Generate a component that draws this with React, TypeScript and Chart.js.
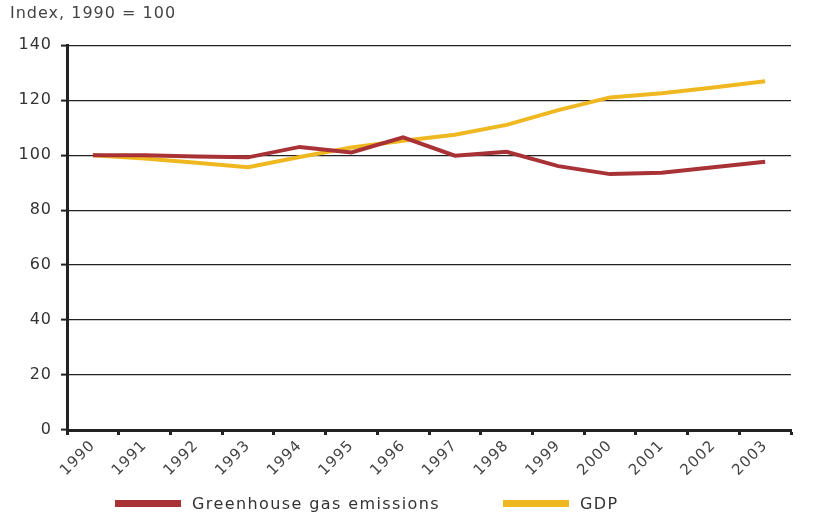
import React, { useEffect, useRef } from "react";
import { Chart, registerables } from "chart.js";

Chart.register(...registerables);

const years = ["1990","1991","1992","1993","1994","1995","1996","1997","1998","1999","2000","2001","2002","2003"];
const emissions = [100, 100, 99.5, 99.2, 103, 101, 106.5, 99.8, 101.2, 96, 93.1, 93.6, 95.6, 97.6];
const gdp = [100, 98.8, 97.2, 95.6, 99.3, 102.8, 105.2, 107.4, 111, 116.4, 121, 122.5, 124.6, 126.9];
const yTicks = [0, 20, 40, 60, 80, 100, 120, 140];
const titleText = "Index, 1990 = 100";
const seriesNames = ["Greenhouse gas emissions", "GDP"];
const seriesColors = ["#a83236", "#efb821"];

const FONT = "'DejaVu Sans', 'Liberation Sans', Arial, sans-serif";

const spacingPlugin = {
  id: "spacing",
  beforeLayout(chart: any) { chart.ctx.letterSpacing = "1px"; },
  beforeDraw(chart: any) { chart.ctx.letterSpacing = "1px"; },
};

export default function App() {
  const ref = useRef<HTMLCanvasElement>(null);
  useEffect(() => {
    document.body.style.margin = "0";
    const ctx = ref.current!;
    const chart = new Chart(ctx, {
      type: "line",
      data: {
        labels: years,
        datasets: [
          { label: seriesNames[0], data: emissions, borderColor: seriesColors[0], backgroundColor: seriesColors[0], borderWidth: 4, pointRadius: 0, tension: 0 },
          { label: seriesNames[1], data: gdp, borderColor: seriesColors[1], backgroundColor: seriesColors[1], borderWidth: 4, pointRadius: 0, tension: 0 },
        ],
      },
      plugins: [spacingPlugin],
      options: {
        responsive: false,
        animation: false,
        layout: { padding: { left: 10, right: 41, top: 0, bottom: 0 } },
        plugins: {
          legend: { display: false },
          tooltip: { enabled: false },
          title: {
            display: true,
            text: titleText,
            align: "start",
            color: "#444",
            font: { family: FONT, size: 16, weight: "normal" },
            padding: { top: 4, bottom: 22 },
          },
        },
        scales: {
          x: {
            offset: true,
            grid: { display: true, offset: true, drawOnChartArea: false, drawTicks: true, tickLength: 5, tickWidth: 3, tickColor: "#222" },
            border: { display: true, color: "#222", width: 3 },
            ticks: {
              color: "#444",
              maxRotation: 45,
              minRotation: 45,
              padding: 2,
              font: { family: FONT, size: 15 },
            },
            afterFit: (s: any) => { s.height = 101; },
          },
          y: {
            min: 0,
            max: 140,
            afterBuildTicks: (s: any) => { s.ticks = yTicks.map((v) => ({ value: v })); },
            grid: { color: "#222", lineWidth: 1.2, drawTicks: true, tickLength: 6, tickWidth: 2, tickColor: "#222" },
            border: { display: true, color: "#222", width: 3 },
            ticks: {
              color: "#333",
              padding: 9,
              font: { family: FONT, size: 16 },
            },
            afterFit: (s: any) => { s.width = 57; },
          },
        },
      },
    });
    return () => chart.destroy();
  }, []);

  const legendItem = (i: number, left: number) => (
    <div key={i} style={{ position: "absolute", left, top: 494, display: "flex", alignItems: "center" }}>
      <div style={{ width: 66, height: 7, background: seriesColors[i], marginRight: 11 }} />
      <span style={{ fontFamily: FONT, fontSize: 16, color: "#333", letterSpacing: 1.4 }}>{seriesNames[i]}</span>
    </div>
  );

  return (
    <div style={{ position: "relative", width: 832, height: 531 }}>
      <canvas ref={ref} width={832} height={531} />
      {legendItem(0, 115)}
      {legendItem(1, 503)}
    </div>
  );
}
